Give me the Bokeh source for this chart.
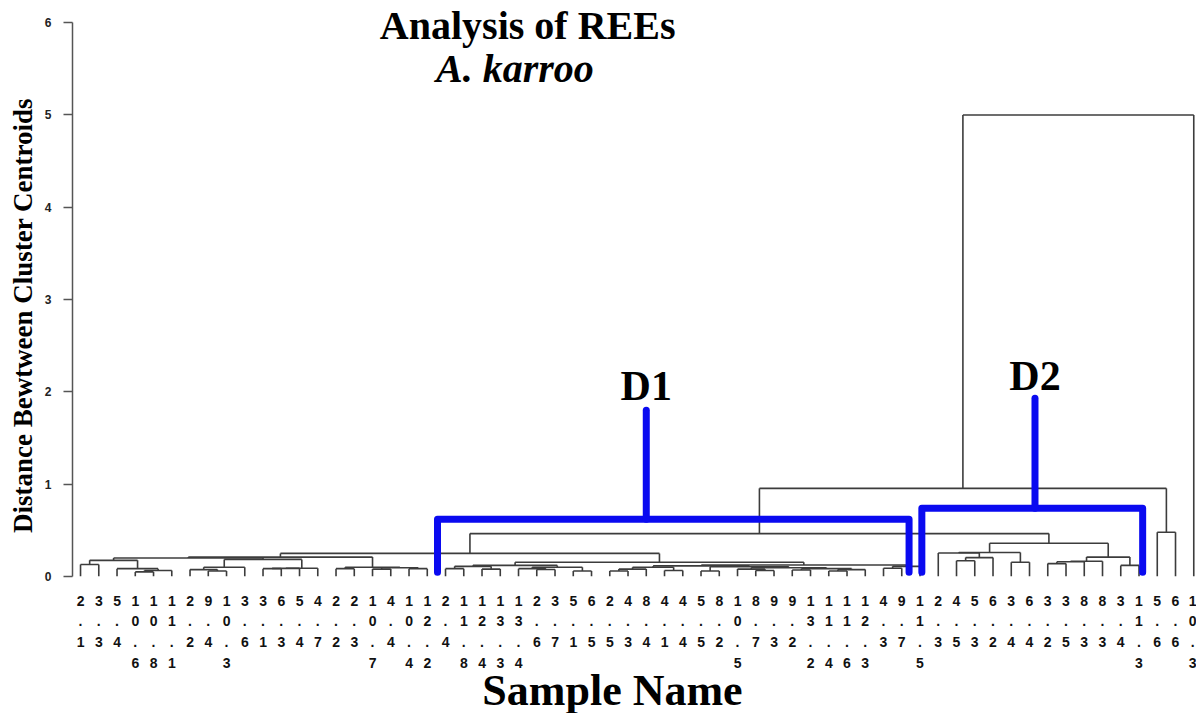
from bokeh.plotting import figure
from bokeh.models import Label, FixedTicker, Range1d
from bokeh.embed import file_html
from bokeh.resources import INLINE

# Sample names in dendrogram leaf order
sample_names = [
    "2.1", "3.3", "5.4", "10.6", "10.8", "11.1", "2.2", "9.4", "10.3", "3.6",
    "3.1", "6.3", "5.4", "4.7", "2.2", "2.3", "10.7", "4.4", "10.4", "12.2",
    "2.4", "11.8", "12.4", "13.3", "13.4", "2.6", "3.7", "5.1", "6.5", "2.5",
    "4.3", "8.4", "4.1", "4.4", "5.5", "8.2", "10.5", "8.7", "9.3", "9.2",
    "13.2", "11.4", "11.6", "12.3", "4.3", "9.7", "11.5", "2.3", "4.5", "5.3",
    "6.2", "3.4", "6.4", "3.2", "3.5", "8.3", "8.3", "3.4", "11.3", "5.6",
    "6.6", "10.3",
]

# Cluster merges as (distance, left, right); ints are leaf positions
grp_a1 = (0.175, (0.13, 0, 1), (0.085, 2, (0.065, (0.05, 3, 4), 5)))
grp_b1 = (0.10, (0.075, 6, (0.06, 7, 8)), 9)
grp_b2 = (0.09, (0.088, (0.085, 10, 11), 12), 13)
grp_b = (0.185, grp_b1, grp_b2)
grp_a2 = (0.10, (0.085, 14, 15), (0.095, (0.08, 16, 17), (0.085, 18, 19)))
grp_p = (0.21, (0.20, grp_a1, grp_b), grp_a2)

grp_r1 = (0.11, (0.085, 20, 21), (0.08, 22, 23))
grp_r2 = (0.10, (0.085, 24, (0.076, 25, 26)), (0.06, 27, 28))
grp_r = (0.12, grp_r1, grp_r2)
grp_s1a = (0.10, (0.08, (0.06, 29, 30), 31), (0.065, 32, 33))
grp_s1b = (0.105, (0.06, 34, 35),
           (0.095, (0.08, 36, (0.065, 37, 38)),
            (0.085, (0.07, 39, 40), (0.075, (0.06, 41, 42), 43))))
grp_s = (0.125, (0.115, grp_s1a, grp_s1b), (0.11, (0.09, 44, 45), 46))
grp_n = (0.25, grp_p, (0.155, grp_r, grp_s))

grp_c = (0.26, (0.255, 47, (0.205, (0.17, 48, 49), 50)), (0.155, 51, 52))
grp_g = (0.21, (0.165, (0.16, (0.14, 53, 54), 55), 56), (0.12, 57, 58))
grp_j = (0.36, grp_c, grp_g)

tree = (5.0, (0.955, (0.465, grp_n, grp_j), (0.48, 59, 60)), 61)

# Segments of the dendrogram, each parent centred between its two children
x0, y0, x1, y1 = [], [], [], []


def layout(node):
    if isinstance(node, int):
        return float(node), 0.0
    h, left, right = node
    xl, hl = layout(left)
    xr, hr = layout(right)
    for xs, hs in ((xl, hl), (xr, hr)):
        x0.append(xs); y0.append(hs); x1.append(xs); y1.append(h)
    x0.append(xl); y0.append(h); x1.append(xr); y1.append(h)
    return (xl + xr) / 2.0, h


layout(tree)

p = figure(frame_width=1124, frame_height=576,
           x_range=Range1d(-0.44, 61.15), y_range=Range1d(0, 6.24),
           output_backend="svg", toolbar_location=None,
           min_border_left=72, min_border_right=0,
           min_border_top=0, min_border_bottom=137)
p.outline_line_color = None
p.xgrid.visible = False
p.ygrid.visible = False
p.background_fill_color = "white"
p.border_fill_color = "white"

p.segment(x0=x0, y0=y0, x1=x1, y1=y1, line_color="#3c3c3c", line_width=1.6)

# Groups D1 and D2 marked with thick blue brackets
bracket_names = ["D1", "D2"]
bracket_left = [19.56, 46.1]
bracket_right = [45.4, 58.2]
bracket_level = [0.62, 0.74]
bracket_stem = [31.0, 52.3]
bracket_top = [1.80, 1.93]
bracket_text_y = [2.06, 2.17]
bracket_foot = 0.045

for i, name in enumerate(bracket_names):
    p.line([bracket_left[i], bracket_left[i], bracket_right[i], bracket_right[i]],
           [bracket_foot, bracket_level[i], bracket_level[i], bracket_foot],
           line_color="#0a0af0", line_width=7, line_join="round", line_cap="round")
    p.line([bracket_stem[i], bracket_stem[i]], [bracket_level[i], bracket_top[i]],
           line_color="#0a0af0", line_width=7, line_cap="round")
    p.add_layout(Label(x=bracket_stem[i], y=bracket_text_y[i], text=name,
                       text_font="Liberation Serif", text_font_style="bold",
                       text_font_size="42px", text_align="center",
                       text_baseline="middle", text_color="black"))

p.add_layout(Label(x=24.5, y=5.97, text="Analysis of REEs",
                   text_font="Liberation Serif", text_font_style="bold",
                   text_font_size="40px", text_align="center",
                   text_baseline="middle", text_color="black"))
p.add_layout(Label(x=23.8, y=5.5, text="A. karroo",
                   text_font="Liberation Serif", text_font_style="bold italic",
                   text_font_size="40px", text_align="center",
                   text_baseline="middle", text_color="black"))

# Y axis
ya = p.yaxis[0]
ya.ticker = FixedTicker(ticks=[0, 1, 2, 3, 4, 5, 6])
ya.bounds = (0, 6)
ya.axis_line_color = "#555555"
ya.axis_line_width = 1.5
ya.major_tick_line_color = "#555555"
ya.major_tick_line_width = 1.5
ya.major_tick_out = 9
ya.major_tick_in = 0
ya.minor_tick_line_color = None
ya.major_label_text_font = "Liberation Sans"
ya.major_label_text_font_style = "bold"
ya.major_label_text_font_size = "12px"
ya.major_label_text_color = "#222222"
ya.major_label_standoff = 12
ya.axis_label = "Distance Bewtween Cluster Centroids" + "\u00a0" * 8
ya.axis_label_text_font = "Liberation Serif"
ya.axis_label_text_font_style = "bold"
ya.axis_label_text_font_size = "27px"
ya.axis_label_text_color = "black"
ya.axis_label_standoff = 4

# X axis: sample names written downward, one character per row
xa = p.xaxis[0]
xa.ticker = FixedTicker(ticks=list(range(len(sample_names))))
xa.major_label_overrides = {i: "\n".join(s) for i, s in enumerate(sample_names)}
xa.axis_line_color = None
xa.major_tick_line_color = None
xa.minor_tick_line_color = None
xa.major_label_text_font = "Liberation Sans"
xa.major_label_text_font_style = "bold"
xa.major_label_text_font_size = "14px"
xa.major_label_text_line_height = 1.3
xa.major_label_text_color = "#111111"
xa.major_label_standoff = 10
xa.axis_label = "Sample Name" + "\u00a0" * 4
xa.axis_label_text_font = "Liberation Serif"
xa.axis_label_text_font_style = "bold"
xa.axis_label_text_font_size = "44px"
xa.axis_label_text_color = "black"
xa.axis_label_standoff = -8

open("out.html", "w").write(file_html(p, INLINE))
